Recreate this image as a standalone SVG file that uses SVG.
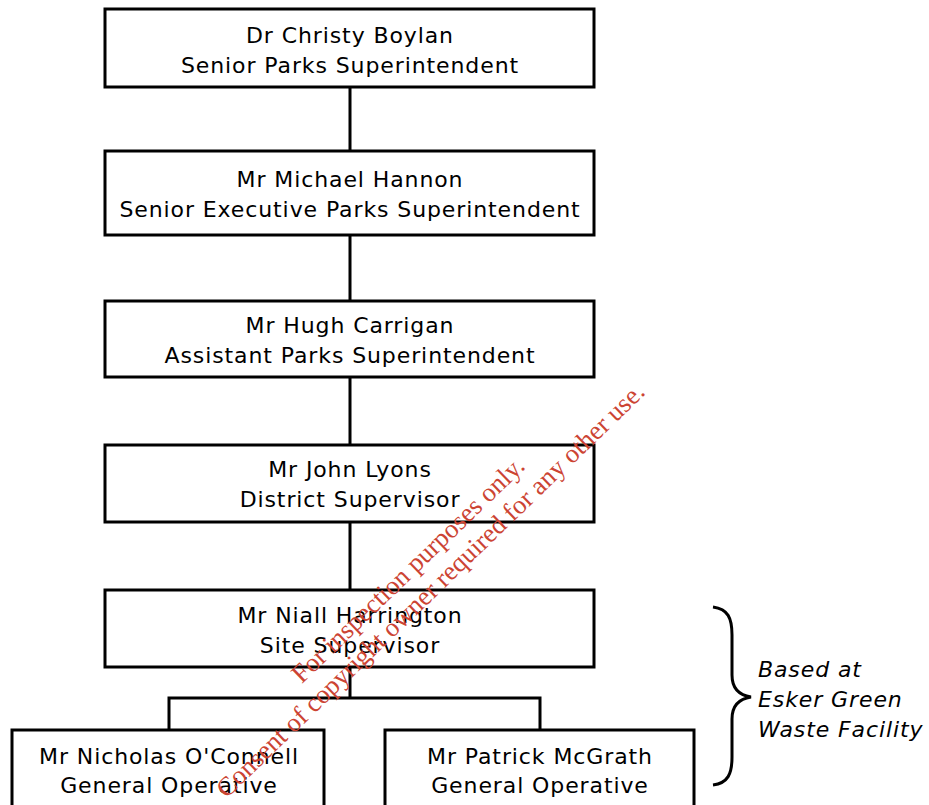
<svg xmlns="http://www.w3.org/2000/svg" width="929" height="805" viewBox="0 0 929 805">
<style>
.box{fill:#fff;stroke:#000;stroke-width:3}
.t{font-family:"DejaVu Sans","Verdana",sans-serif;font-size:22px;letter-spacing:0.9px;fill:#000;text-anchor:middle}
.note{font-family:"DejaVu Sans","Verdana",sans-serif;font-size:22px;letter-spacing:0.9px;font-style:italic;fill:#000}
.con{fill:none;stroke:#000;stroke-width:3}
.wm{font-family:"Liberation Serif","Times New Roman",serif;font-size:26.5px;fill:#cc4433;text-anchor:middle}
</style>
<rect width="929" height="805" fill="#fff"/>
<g id="connectors">
<path class="con" d="M350 87V151M350 235V301M350 377V445M350 522V590M350 667V698M169 730V698H540V730"/>
</g>
<g id="n1"><rect class="box" x="105" y="9" width="489" height="78"/><text class="t" x="350" y="43">Dr Christy Boylan</text><text class="t" x="350" y="73">Senior Parks Superintendent</text></g>
<g id="n2"><rect class="box" x="105" y="151" width="489" height="84"/><text class="t" x="350" y="187">Mr Michael Hannon</text><text class="t" x="350" y="217">Senior Executive Parks Superintendent</text></g>
<g id="n3"><rect class="box" x="105" y="301" width="489" height="76"/><text class="t" x="350" y="333">Mr Hugh Carrigan</text><text class="t" x="350" y="363">Assistant Parks Superintendent</text></g>
<g id="n4"><rect class="box" x="105" y="445" width="489" height="77"/><text class="t" x="350" y="477">Mr John Lyons</text><text class="t" x="350" y="507">District Supervisor</text></g>
<g id="n5"><rect class="box" x="105" y="590" width="489" height="77"/><text class="t" x="350" y="623">Mr Niall Harrington</text><text class="t" x="350" y="653">Site Supervisor</text></g>
<g id="n6"><rect class="box" x="12" y="730" width="312" height="90"/><text class="t" x="169" y="764">Mr Nicholas O'Connell</text><text class="t" x="169" y="793">General Operative</text></g>
<g id="n7"><rect class="box" x="385" y="730" width="309" height="90"/><text class="t" x="540" y="764">Mr Patrick McGrath</text><text class="t" x="540" y="793">General Operative</text></g>
<g id="note">
<path class="con" d="M713 607C728 609 732 618 732 635V675C732 688 738 695 751 697C738 699 732 706 732 719V757C732 774 728 783 713 785"/>
<text class="note" x="758" y="677">Based at</text>
<text class="note" x="758" y="707">Esker Green</text>
<text class="note" x="758" y="737">Waste Facility</text>
</g>
<g id="watermark" transform="translate(414,576) rotate(-44)">
<text class="wm" x="0" y="0">For inspection purposes only.</text>
<text class="wm" x="2" y="30">Consent of copyright owner required for any other use.</text>
</g>
</svg>
